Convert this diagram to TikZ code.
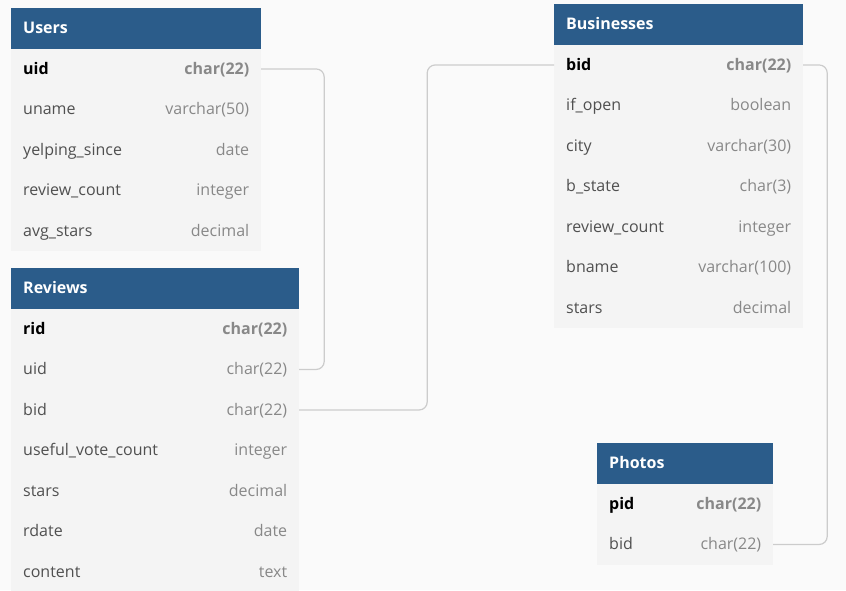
\documentclass[tikz,border=0pt]{standalone}
\usepackage{fontspec}
\setmainfont{Open Sans}
\usetikzlibrary{matrix}
\definecolor{head}{HTML}{2B5C8A}
\definecolor{body}{HTML}{F4F4F4}
\definecolor{paper}{HTML}{FAFAFA}
\definecolor{fieldname}{HTML}{505050}
\definecolor{fieldtype}{HTML}{888888}
\definecolor{linkgray}{HTML}{CCCCCC}

\begin{document}
\fontsize{16}{19}\selectfont
\begin{tikzpicture}
  [x=1pt, y=-1pt,
entity/.style 2 args={matrix of nodes, inner sep=0pt, anchor=north west, column sep=0pt, row sep=0pt, nodes in empty cells,
  nodes={fill=body, minimum height=40.5pt, inner xsep=12pt, inner ysep=0pt, outer sep=0pt, text height=13pt, text depth=2pt},
  column 1/.style={nodes={text width=#1, align=left, text=fieldname}},
  column 2/.style={nodes={text width=#2, align=right, text=fieldtype}},
  row 1/.style={nodes={fill=head, text=white, font=\bfseries}},
  row 2/.style={nodes={font=\bfseries}},
  row 2 column 1/.style={nodes={text=black}}},
relation/.style={draw=linkgray, line width=1.2pt, rounded corners=8pt}]
  \path[use as bounding box, fill=paper] (0,0) rectangle (846,590);
  \matrix[entity={106pt}{96pt}] (users) at (11,8) {
    Users & \\
    uid & char(22) \\
    uname & varchar(50) \\
    yelping\_since & date \\
    review\_count & integer \\
    avg\_stars & decimal \\};
  \matrix[entity={146pt}{94pt}] (reviews) at (11,268) {
    Reviews & \\
    rid & char(22) \\
    uid & char(22) \\
    bid & char(22) \\
    useful\_vote\_count & integer \\
    stars & decimal \\
    rdate & date \\
    content & text \\};
  \matrix[entity={101pt}{100pt}] (businesses) at (554,4) {
    Businesses & \\
    bid & char(22) \\
    if\_open & boolean \\
    city & varchar(30) \\
    b\_state & char(3) \\
    review\_count & integer \\
    bname & varchar(100) \\
    stars & decimal \\};
  \matrix[entity={56pt}{72pt}] (photos) at (597,443) {
    Photos & \\
    pid & char(22) \\
    bid & char(22) \\};
  \draw[relation] (users-2-2.east) -- +(63,0) |- (reviews-3-2.east);
  \draw[relation] (reviews-4-2.east) -- +(128,0) |- (businesses-2-1.west);
  \draw[relation] (businesses-2-2.east) -- +(24,0) |- (photos-3-2.east);
\end{tikzpicture}
\end{document}
